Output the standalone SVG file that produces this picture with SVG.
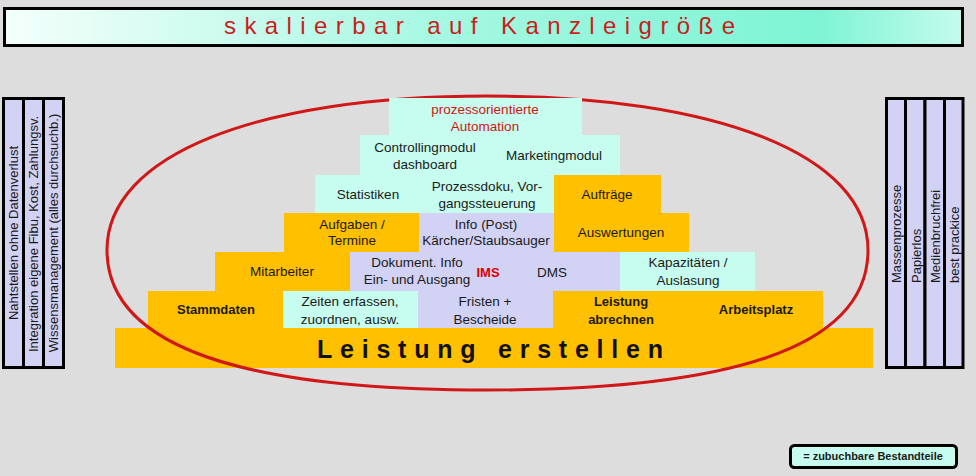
<svg xmlns="http://www.w3.org/2000/svg" width="976" height="476" viewBox="0 0 976 476">
<defs>
<linearGradient id="titleGrad" x1="0" y1="0" x2="1" y2="0">
<stop offset="0" stop-color="#f4fffb"/>
<stop offset="0.45" stop-color="#a6f8e2"/>
<stop offset="0.85" stop-color="#7ef4d5"/>
<stop offset="1" stop-color="#c4fbec"/>
</linearGradient>
<style>
text{font-family:"Liberation Sans",Arial,sans-serif;font-size:13.5px;fill:#1a1a1a;text-anchor:middle}
.o{fill:#ffc000}
.m{fill:#c6fdee}
.l{fill:#d2d2f4}
.col{fill:#d2d2f4;stroke:#000;stroke-width:3}
.b{font-weight:bold;font-size:13px}
.red{fill:#d01414}
.side{font-size:13px}
</style>
</defs>
<rect width="976" height="476" fill="#dddddd"/>

<g id="title">
<rect x="4.5" y="8.5" width="958" height="37" fill="url(#titleGrad)" stroke="#000" stroke-width="3"/>
<text x="224" y="34" textLength="511" lengthAdjust="spacing" style="font-size:24px;fill:#c81e1e;text-anchor:start">skalierbar auf Kanzleigröße</text>
</g>

<g id="left-panel">
<rect class="col" x="3.5" y="98.5" width="20" height="269"/>
<rect class="col" x="23.5" y="98.5" width="20" height="269"/>
<rect class="col" x="43.5" y="98.5" width="20" height="269"/>
<text class="side" transform="translate(18,233) rotate(-90)">Nahtstellen ohne Datenverlust</text>
<text class="side" transform="translate(38,234) rotate(-90)">Integration eigene Fibu, Kost, Zahlungsv.</text>
<text class="side" transform="translate(58,233) rotate(-90)">Wissensmanagement (alles durchsuchb.)</text>
</g>

<g id="right-panel">
<rect class="col" x="886.5" y="98.5" width="19" height="269"/>
<rect class="col" x="905.5" y="98.5" width="19.5" height="269"/>
<rect class="col" x="925" y="98.5" width="19.5" height="269"/>
<rect class="col" x="944.5" y="98.5" width="18.5" height="269"/>
<text class="side" style="text-anchor:start" transform="translate(901,283) rotate(-90)">Massenprozesse</text>
<text class="side" style="text-anchor:start" transform="translate(921,283) rotate(-90)">Papierlos</text>
<text class="side" style="text-anchor:start" transform="translate(940,283) rotate(-90)">Medienbruchfrei</text>
<text class="side" style="text-anchor:start" transform="translate(959,283) rotate(-90)">best prackice</text>
</g>

<g id="leistung-erstellen">
<rect class="o" x="115" y="328" width="758" height="40"/>
<text x="317" y="358" textLength="346" lengthAdjust="spacing" style="font-size:25px;font-weight:bold;fill:#111;text-anchor:start">Leistung erstellen</text>
</g>

<g id="stammdaten"><rect class="o" x="148" y="291" width="135" height="37"/><text class="b" x="216" y="314">Stammdaten</text></g>
<g id="zeiten"><rect class="m" x="283" y="291" width="135" height="37"/><text x="350" y="306">Zeiten erfassen,</text><text x="350" y="324">zuordnen, ausw.</text></g>
<g id="fristen"><rect class="l" x="418" y="291" width="135" height="37"/><text x="485" y="306">Fristen +</text><text x="485" y="324">Bescheide</text></g>
<g id="leistung-abrechnen"><rect class="o" x="553" y="291" width="135" height="37"/><text class="b" x="621" y="306">Leistung</text><text class="b" x="621" y="324">abrechnen</text></g>
<g id="arbeitsplatz"><rect class="o" x="688" y="291" width="135" height="37"/><text class="b" x="756" y="314">Arbeitsplatz</text></g>

<g id="mitarbeiter"><rect class="o" x="215" y="252" width="135" height="39"/><text x="282" y="276">Mitarbeiter</text></g>
<g id="dokument"><rect class="l" x="350" y="252" width="270" height="39"/><text x="417" y="267">Dokument. Info</text><text x="417" y="284">Ein- und Ausgang</text><text class="b" x="488" y="277" style="fill:#dd0000">IMS</text><text x="552" y="277">DMS</text></g>
<g id="kapazitaeten"><rect class="m" x="620" y="252" width="135" height="39"/><text x="688" y="267">Kapazitäten /</text><text x="688" y="285">Auslasung</text></g>

<g id="aufgaben"><rect class="o" x="284" y="213" width="135" height="39"/><text x="352" y="229">Aufgaben /</text><text x="352" y="245">Termine</text></g>
<g id="info-post"><rect class="l" x="419" y="213" width="135" height="39"/><text x="486" y="229">Info (Post)</text><text x="486" y="245">Kärcher/Staubsauger</text></g>
<g id="auswertungen"><rect class="o" x="554" y="213" width="135" height="39"/><text x="621" y="237">Auswertungen</text></g>

<g id="statistiken"><rect class="m" x="315" y="175" width="105" height="38"/><text x="368" y="199">Statistiken</text></g>
<g id="prozessdoku"><rect class="m" x="419" y="175" width="135" height="38"/><text x="487" y="191">Prozessdoku, Vor-</text><text x="487" y="208">gangssteuerung</text></g>
<g id="auftraege"><rect class="o" x="554" y="175" width="107" height="38"/><text x="607" y="199">Aufträge</text></g>

<g id="controlling"><rect class="m" x="360" y="135" width="131" height="40"/><text x="425" y="152">Controllingmodul</text><text x="425" y="169">dashboard</text></g>
<g id="marketing"><rect class="m" x="490" y="135" width="130" height="40"/><text x="554" y="160">Marketingmodul</text></g>

<g id="ellipse">
<path d="M107,250 C107,155 257,96 487,96 C717,96 868,155 868,250 C868,350 725,390 487,390 C250,390 107,350 107,250 Z" fill="none" stroke="#d01818" stroke-width="3"/>
</g>

<g id="automation"><rect class="m" x="389" y="98" width="193" height="37"/><text class="red" x="485" y="114">prozessorientierte</text><text class="red" x="485" y="131">Automation</text></g>

<g id="legend">
<rect x="790.5" y="445.5" width="166" height="22" rx="4" fill="#c6fdee" stroke="#000" stroke-width="3"/>
<text x="873" y="460" style="font-size:11px;font-weight:bold">= zubuchbare Bestandteile</text>
</g>
</svg>
